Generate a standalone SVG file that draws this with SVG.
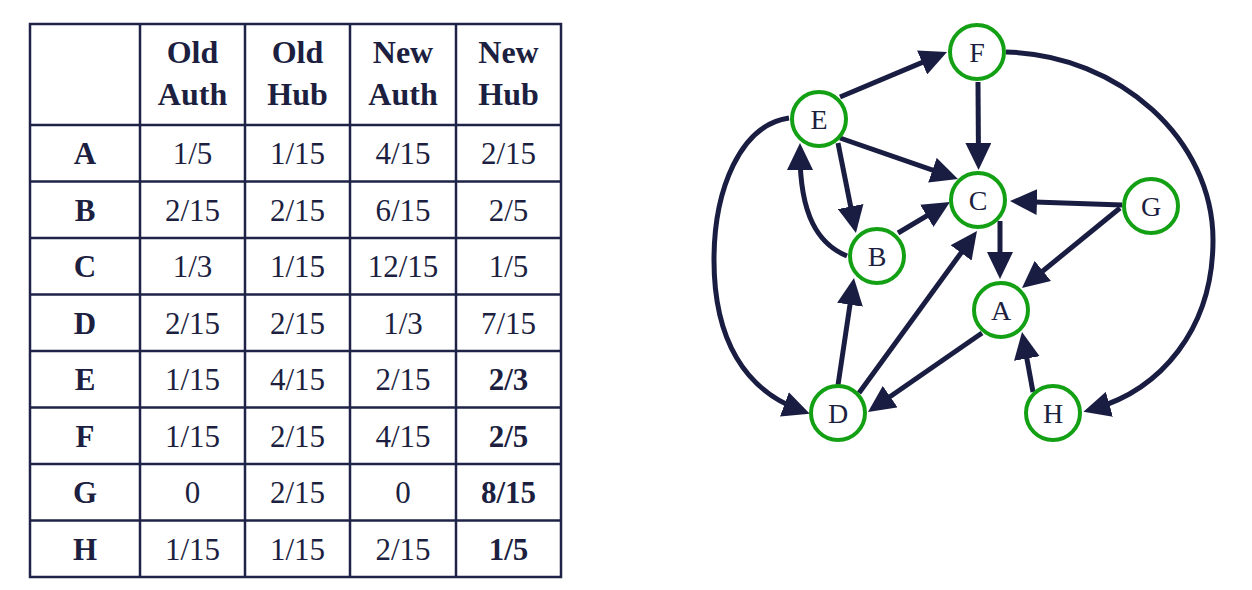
<svg xmlns="http://www.w3.org/2000/svg" width="1252" height="590" viewBox="0 0 1252 590">
<style>
.grid{stroke:#1e2347;stroke-width:2.5;fill:none}
.th{font-family:"Liberation Serif","Times New Roman",serif;font-size:32px;font-weight:bold;fill:#1c1f3f;text-anchor:middle}
.td{font-family:"Liberation Serif","Times New Roman",serif;font-size:31px;fill:#1c1f3f;text-anchor:middle}
.b{font-weight:bold}
.node circle{fill:#ffffff;stroke:#14a014;stroke-width:4}
.node text{font-family:"Liberation Serif","Times New Roman",serif;font-size:28px;fill:#1c1f3f;text-anchor:middle}
.edge{stroke:#1a1d42;stroke-width:5;fill:none;marker-end:url(#arr)}
</style>
<defs>
<marker id="arr" viewBox="0 0 27 26" markerWidth="27" markerHeight="26" refX="17" refY="13" orient="auto" markerUnits="userSpaceOnUse">
<path d="M0,0 L27,13 L0,26 z" fill="#1a1d42"/>
</marker>
</defs>
<rect width="1252" height="590" fill="#ffffff"/>

<g id="table">
<rect class="grid" x="30" y="24" width="531" height="553"/>
<path class="grid" d="M140,24V577M245,24V577M350,24V577M456,24V577M30,125H561M30,181.5H561M30,238H561M30,294.5H561M30,351H561M30,407.5H561M30,464H561M30,520.5H561"/>
<text class="th" x="192.5" y="63">Old</text><text class="th" x="192.5" y="105">Auth</text>
<text class="th" x="297.5" y="63">Old</text><text class="th" x="297.5" y="105">Hub</text>
<text class="th" x="403" y="63">New</text><text class="th" x="403" y="105">Auth</text>
<text class="th" x="508.5" y="63">New</text><text class="th" x="508.5" y="105">Hub</text>

<text class="td b" x="85" y="164">A</text><text class="td" x="192.5" y="164">1/5</text><text class="td" x="297.5" y="164">1/15</text><text class="td" x="403" y="164">4/15</text><text class="td" x="508.5" y="164">2/15</text>
<text class="td b" x="85" y="220.5">B</text><text class="td" x="192.5" y="220.5">2/15</text><text class="td" x="297.5" y="220.5">2/15</text><text class="td" x="403" y="220.5">6/15</text><text class="td" x="508.5" y="220.5">2/5</text>
<text class="td b" x="85" y="277">C</text><text class="td" x="192.5" y="277">1/3</text><text class="td" x="297.5" y="277">1/15</text><text class="td" x="403" y="277">12/15</text><text class="td" x="508.5" y="277">1/5</text>
<text class="td b" x="85" y="333.5">D</text><text class="td" x="192.5" y="333.5">2/15</text><text class="td" x="297.5" y="333.5">2/15</text><text class="td" x="403" y="333.5">1/3</text><text class="td" x="508.5" y="333.5">7/15</text>
<text class="td b" x="85" y="390">E</text><text class="td" x="192.5" y="390">1/15</text><text class="td" x="297.5" y="390">4/15</text><text class="td" x="403" y="390">2/15</text><text class="td b" x="508.5" y="390">2/3</text>
<text class="td b" x="85" y="446.5">F</text><text class="td" x="192.5" y="446.5">1/15</text><text class="td" x="297.5" y="446.5">2/15</text><text class="td" x="403" y="446.5">4/15</text><text class="td b" x="508.5" y="446.5">2/5</text>
<text class="td b" x="85" y="503">G</text><text class="td" x="192.5" y="503">0</text><text class="td" x="297.5" y="503">2/15</text><text class="td" x="403" y="503">0</text><text class="td b" x="508.5" y="503">8/15</text>
<text class="td b" x="85" y="559.5">H</text><text class="td" x="192.5" y="559.5">1/15</text><text class="td" x="297.5" y="559.5">1/15</text><text class="td" x="403" y="559.5">2/15</text><text class="td b" x="508.5" y="559.5">1/5</text>
</g>

<g id="edges">
<path class="edge" d="M840,97 L937.8,55.9"/>
<path class="edge" d="M978,82 L978.5,160"/>
<path class="edge" d="M840,138 L948.5,175.7"/>
<path class="edge" d="M838,143 L854,223.2"/>
<path class="edge" d="M847,256 C818,244 800,215 800,153"/>
<path class="edge" d="M898,233 L941.4,207.1"/>
<path class="edge" d="M1122,205 L1020,201.4"/>
<path class="edge" d="M1120,208 L1029.7,281.7"/>
<path class="edge" d="M1000,221 L1000,269"/>
<path class="edge" d="M838,385 L852.5,287.9"/>
<path class="edge" d="M859,393 L971.1,239.1"/>
<path class="edge" d="M982,333 L876.2,406.3"/>
<path class="edge" d="M1033,392 L1023.8,341.8"/>
<path class="edge" d="M789,118 C740,125 714,190 714,260 C714,340 745,390 800.4,410.2"/>
<path class="edge" d="M1006,52 C1120,55 1213,140 1213,240 C1213,330 1160,390 1093,409"/>
</g>

<g id="node-F" class="node"><circle cx="977" cy="52" r="27"/><text x="977" y="62">F</text></g>
<g id="node-E" class="node"><circle cx="819" cy="119" r="27"/><text x="819" y="129">E</text></g>
<g id="node-C" class="node"><circle cx="978" cy="200" r="27"/><text x="978" y="210">C</text></g>
<g id="node-G" class="node"><circle cx="1151" cy="206" r="27"/><text x="1151" y="216">G</text></g>
<g id="node-B" class="node"><circle cx="877" cy="256" r="27"/><text x="877" y="266">B</text></g>
<g id="node-A" class="node"><circle cx="1001" cy="310" r="27"/><text x="1001" y="320">A</text></g>
<g id="node-D" class="node"><circle cx="838" cy="413" r="27"/><text x="838" y="423">D</text></g>
<g id="node-H" class="node"><circle cx="1053" cy="413" r="27"/><text x="1053" y="423">H</text></g>
</svg>
